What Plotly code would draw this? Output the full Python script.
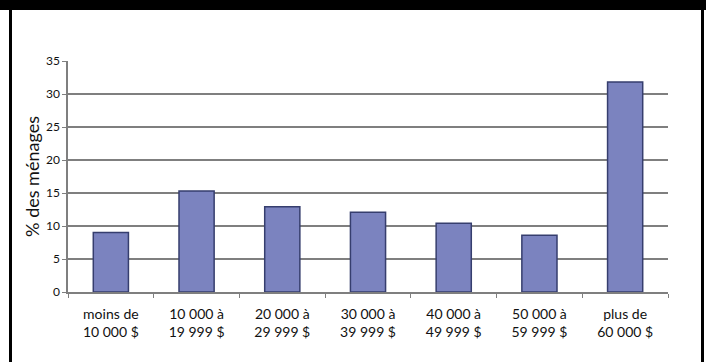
import plotly.graph_objects as go

categories = ["moins de<br>10 000 $", "10 000 à<br>19 999 $", "20 000 à<br>29 999 $",
              "30 000 à<br>39 999 $", "40 000 à<br>49 999 $", "50 000 à<br>59 999 $",
              "plus de<br>60 000 $"]
values = [9.0, 15.3, 12.9, 12.1, 10.4, 8.6, 31.8]
y_tickvals = [0, 5, 10, 15, 20, 25, 30, 35]
y_title = "% des ménages"

W, H = 706, 362
L, R, T, B = 68, 38, 61, 70
pw, ph = W - L - R, H - T - B

def px_x(px):
    return (px - L) / pw

def px_y(py):
    return (H - B - py) / ph

fig = go.Figure(go.Bar(
    x=categories, y=values,
    marker=dict(color="#7B83BF", line=dict(color="#363E6E", width=1.5)),
    width=0.41,
))

grid = "#7F7F7F"
fig.update_layout(
    width=W, height=H,
    margin=dict(l=L, r=R, t=T, b=B),
    paper_bgcolor="white", plot_bgcolor="white",
    showlegend=False,
    font=dict(family="Lato, 'Open Sans', sans-serif", color="#111111"),
    xaxis=dict(
        showline=True, linecolor=grid, linewidth=1.5,
        ticks="outside", ticklen=4, tickcolor=grid, tickwidth=1,
        tickson="boundaries",
        tickfont=dict(size=14),
        ticklabelstandoff=8,
        showgrid=False,
    ),
    yaxis=dict(
        range=[0, 35], tickvals=y_tickvals,
        showline=True, linecolor=grid, linewidth=1.5,
        ticks="outside", ticklen=4, tickcolor=grid, tickwidth=1,
        showgrid=True, gridcolor=grid, gridwidth=1.5,
        zeroline=False,
        tickfont=dict(size=12),
        title=dict(text=y_title, font=dict(size=18), standoff=2),
    ),
    shapes=[
        dict(type="rect", xref="paper", yref="paper",
             x0=px_x(0), x1=px_x(W), y0=px_y(10), y1=px_y(0),
             fillcolor="black", line=dict(width=0), layer="above"),
        dict(type="line", xref="paper", yref="paper",
             x0=px_x(10.5), x1=px_x(10.5), y0=px_y(10), y1=px_y(H),
             line=dict(color="black", width=3)),
        dict(type="line", xref="paper", yref="paper",
             x0=px_x(702.5), x1=px_x(702.5), y0=px_y(10), y1=px_y(H),
             line=dict(color="black", width=3)),
    ],
)

fig.write_html("out.html")
